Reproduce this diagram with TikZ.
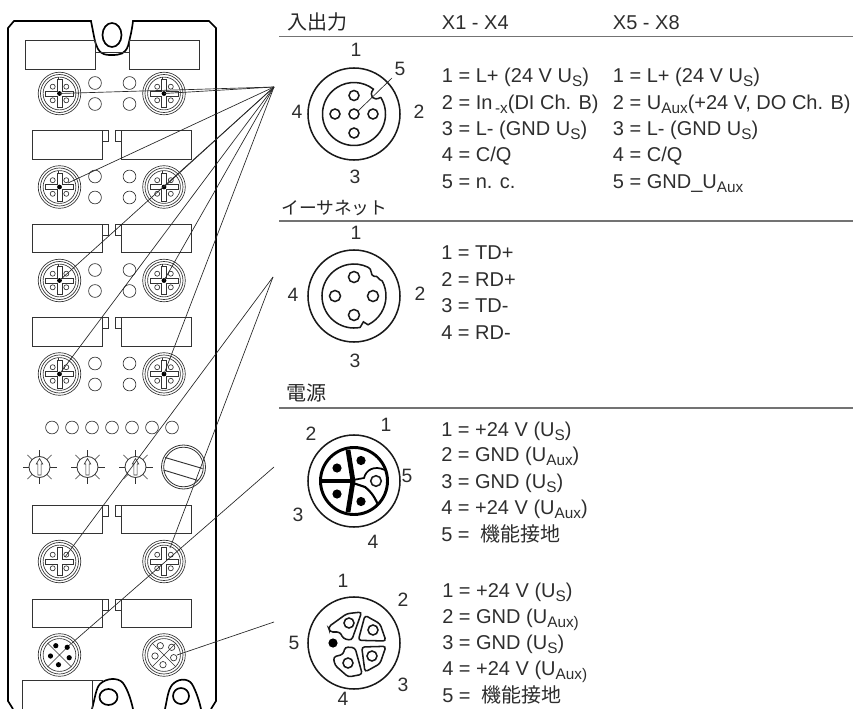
\documentclass[tikz,border=0pt]{standalone}
\usepackage{fontspec}
\usetikzlibrary{calc}
\setmainfont{Liberation Sans}
\newfontfamily\cjkfont{Noto Sans CJK JP}
\newcommand\lowered[1]{\raisebox{-3pt}{\fontsize{11.5pt}{11.5pt}\selectfont #1}}
\tikzset{
  pinlabel/.style={anchor=base west, yshift=-5.2pt, inner sep=0pt, text=black!82, font=\fontsize{15pt}{17pt}\selectfont},
  pinnum/.style={inner sep=0pt, text=black!82, font=\fontsize{14.5pt}{17pt}\selectfont},
  heading/.style={anchor=west, inner sep=0pt, text=black!85, font=\fontsize{15pt}{17pt}\selectfont},
  rulegray/.style={draw=black!55, line width=1.1pt},
  housing/.style={draw=black, line width=1.25pt},
  thinline/.style={draw=black!80, line width=.5pt},
  fanline/.style={draw=black!85, line width=.5pt},
  ledlamp/.style={draw=black!80, line width=.5pt},
  bigline/.style={draw=black!90, line width=1.15pt},
  portrings/.pic={
    \draw[thinline] (0,0) circle[radius=21.3] (0,0) circle[radius=19] (0,0) circle[radius=16.4];
  },
  crosspins/.pic={
    \draw[thinline] (-14,-2.4) -- (-2.4,-2.4) -- (-2.4,-14) -- (2.4,-14) -- (2.4,-2.4) -- (14,-2.4)
      -- (14,2.4) -- (2.4,2.4) -- (2.4,14) -- (-2.4,14) -- (-2.4,2.4) -- (-14,2.4) -- cycle;
    \foreach \px/\py in {-6.8/-6.8,6.8/-6.8,-6.8/6.8,6.8/6.8}
      \draw[thinline] (\px,\py) circle[radius=2.5];
  },
  xlines/.pic={
    \draw[thinline] (-12,-12) -- (12,12) (12,-12) -- (-12,12);
  },
  rotary/.pic={
    \draw[thinline, line width=.6pt] (0,0) circle[radius=10.5];
    \foreach \ang in {0,45,...,315}
      \draw[thinline] (\ang:10.5) -- (\ang:17);
    \draw[thinline] (-1.6,8) -- (-1.6,-3) -- (-3.2,-3) -- (0,-8.5) -- (3.2,-3) -- (1.6,-3) -- (1.6,8) -- cycle;
  }
}
\begin{document}
\begin{tikzpicture}[x=.75pt,y=-.75pt,>=latex]
\useasboundingbox (0,0) rectangle (853,709);

% module housing
\draw[housing] (13,709) -- (8,701) -- (8,28) -- (14,21) -- (91,21)
  .. controls (94,36) and (95,44) .. (98,49) .. controls (102,55) and (106,55) .. (112,55)
  .. controls (120,55) and (125,54) .. (128,46) .. controls (130,38) and (132,30) .. (133,21)
  -- (209,21) -- (216,28) -- (216,701) -- (211,709);
\draw[housing] (112,35) ellipse[x radius=9.5, y radius=12];
\draw[housing] (92,709) .. controls (95,698) and (96,688) .. (100,684) .. controls (106,678) and (118,677) .. (123,683)
  .. controls (128,690) and (131,700) .. (133,709);
\draw[housing] (165,709) .. controls (167,700) and (168,690) .. (172,685) .. controls (178,678) and (188,678) .. (192,684)
  .. controls (196,691) and (199,700) .. (201,709);
\draw[housing] (108.5,697) ellipse[x radius=9, y radius=8];
\draw[housing] (181,696) circle[radius=8];

% label fields
\draw[thinline] (25.5,40) rectangle (95,69);
\draw[thinline] (129,40) rectangle (199,69);
\draw[thinline] (95,52) -- (129,52);
\foreach \ytop in {130.5,224,317.5,505,599}{
  \draw[thinline] (32,\ytop) rectangle ++(70,28.5);
  \draw[thinline] (121.5,\ytop) rectangle ++(70,28.5);
  \draw[thinline] (102,\ytop) -- ++(6,0) -- ++(0,11) -- ++(-6,0);
  \draw[thinline] (121.5,\ytop) -- ++(-6.5,0) -- ++(0,11) -- ++(6.5,0);
}
\draw[thinline] (22.5,709) -- (22.5,680) -- (92,680) -- (92,709);
\draw[thinline] (92,680) -- (103,680);

% ports
\coordinate(X1) at (59.5,93.5);
\coordinate(X2) at (164,93.5);
\coordinate(X3) at (59.5,187);
\coordinate(X4) at (164,187);
\coordinate(X5) at (59.5,280.5);
\coordinate(X6) at (164,280.5);
\coordinate(X7) at (59.5,374);
\coordinate(X8) at (164,374);
\coordinate(P1) at (59.5,561.5);
\coordinate(P2) at (164,561.5);
\coordinate(P3) at (59.5,655);
\coordinate(P4) at (164,655);
\foreach \port in {X1,X2,X3,X4,X5,X6,X7,X8}{
  \pic at (\port) {portrings};
  \pic at (\port) {crosspins};
  \fill[black] (\port) circle[radius=2.4];
  \draw[thinline] (\port)+(-1.5,-13) -- +(-1.5,-16) ;
}
\foreach \port in {P1,P2}{
  \pic at (\port) {portrings};
  \pic at (\port) {crosspins};
}
\foreach \port in {P3,P4}{
  \pic at (\port) {portrings};
  \pic at (\port) {xlines};
}
\foreach \px/\py in {-3.7/-9.3,7.7/-7.7,-9/1,9.7/2.7,-1/9.7}{
  \fill[black] (P3)+(\px,\py) circle[radius=2.6];
  \draw[thinline] (P4)+(\px,\py) circle[radius=3.2];
}

% leds
\foreach \ly in {83,176.5,270,363.5}{
  \draw[ledlamp] (95,\ly) circle[radius=6.4];
  \draw[ledlamp] (129.5,\ly) circle[radius=6.4];
  \draw[ledlamp] (95,\ly+21) circle[radius=6.4];
  \draw[ledlamp] (129.5,\ly+21) circle[radius=6.4];
}
\foreach \lx in {52,72,92,112,132,152,172}
  \draw[ledlamp] (\lx,427.5) circle[radius=6.4];

% rotary switches and cap
\pic at (39.5,467) {rotary};
\pic at (87.5,467) {rotary};
\pic at (135.5,467) {rotary};
\draw[thinline, line width=.6pt] (183.5,467) circle[radius=22] (183.5,467) circle[radius=19.8];
\draw[thinline, line width=.7pt] (165,457.5) -- (202.5,468.5) (163.5,470) -- (198,480.5);

% leader lines
\coordinate(FanA) at (274,87);
\coordinate(FanB) at (273,277);
\coordinate(FanC) at (274,467);
\coordinate(FanD) at (274,622);
\coordinate(X3Tip) at (68,183);
\coordinate(P1Tip) at (65,557);
\coordinate(P2Tip) at (170,548);
\coordinate(P3Tip) at (72,643);
\coordinate(P4Tip) at (177,655);
\foreach \tip in {X1,X2,X3Tip,X4,X5,X6,X7,X8}
  \draw[fanline] (FanA) -- (\tip);
\draw[fanline] (FanB) -- (P1Tip);
\draw[fanline] (FanB) -- (P2Tip);
\draw[fanline] (FanC) -- (P3Tip);
\draw[fanline] (FanD) -- (P4Tip);

% headings
\node(HIO) [heading] at (287,22) {\cjkfont 入出力};
\node(HA) [pinlabel] at (441.7,23) {X1 - X4};
\node(HB) [pinlabel] at (612.7,23) {X5 - X8};
\node(HEth) [heading, font=\fontsize{13.3pt}{15pt}\selectfont] at (281,208) {\cjkfont イーサネット};
\node(HPow) [heading] at (286,393) {\cjkfont 電源};
\coordinate(R1a) at (279,36.5);
\coordinate(R1b) at (853,36.5);
\coordinate(R2a) at (279,221);
\coordinate(R2b) at (853,221);
\coordinate(R3a) at (279,408);
\coordinate(R3b) at (853,408);
\draw[rulegray] (R1a) -- (R1b);
\draw[rulegray] (R2a) -- (R2b);
\draw[rulegray] (R3a) -- (R3b);

% X1 - X8 connector
\coordinate(CA) at (354,114);
\draw[bigline] (CA) circle[radius=46];
\draw[bigline] ($(CA)+(-32:31.5)$) arc[start angle=-32, end angle=308, radius=31.5]
  .. controls ($(CA)+(-52:23)$) and ($(CA)+(-32:23)$) .. ($(CA)+(-32:31.5)$);
\foreach \px/\py in {0/0,0/-18.5,0/19,-19/0,19/0}
  \draw[bigline] (CA)+(\px,\py) circle[radius=5];
\coordinate(CATip) at (392,78);
\coordinate(CAPin) at (357,112);
\draw[fanline] (CAPin) -- (CATip);
\node(A1)[pinnum] at (356,50) {1};
\node(A2)[pinnum] at (419,112) {2};
\node(A3)[pinnum] at (355,177) {3};
\node(A4)[pinnum] at (297,112) {4};
\node(A5)[pinnum] at (400,69) {5};

\node(La1)[pinlabel] at (441.7,76) {1 = L+ (24 V U\lowered{S})};
\node(La2)[pinlabel] at (441.7,103) {2 = In\lowered{\,-x}(DI Ch. B)};
\node(La3)[pinlabel] at (441.7,129) {3 = L- (GND U\lowered{S})};
\node(La4)[pinlabel] at (441.7,155) {4 = C/Q};
\node(La5)[pinlabel] at (441.7,182) {5 = n. c.};
\node(Lb1)[pinlabel] at (612.7,76) {1 = L+ (24 V U\lowered{S})};
\node(Lb2)[pinlabel] at (612.7,103) {2 = U\lowered{Aux}(+24 V, DO Ch. B)};
\node(Lb3)[pinlabel] at (612.7,129) {3 = L- (GND U\lowered{S})};
\node(Lb4)[pinlabel] at (612.7,155) {4 = C/Q};
\node(Lb5)[pinlabel] at (612.7,182) {5 = GND\_U\lowered{Aux}};

% ethernet connector
\coordinate(CB) at (354,296);
\draw[bigline] (CB) circle[radius=46];
\draw[bigline] ($(CB)+(-28:32)$) arc[start angle=-28, end angle=64, radius=32]
  -- ($(CB)+(70:27.5)$) -- ($(CB)+(79:32)$)
  arc[start angle=79, end angle=296, radius=32]
  .. controls ($(CB)+(-56:33)$) and ($(CB)+(-52:26)$) .. ($(CB)+(-45:28)$)
  .. controls ($(CB)+(-40:32)$) and ($(CB)+(-34:29)$) .. ($(CB)+(-28:32)$);
\foreach \px/\py in {0/-19,-19/0,19/0,0/19}
  \draw[bigline] (CB)+(\px,\py) circle[radius=5.5];
\node(B1)[pinnum] at (356,233) {1};
\node(B2)[pinnum] at (420,294) {2};
\node(B3)[pinnum] at (355,361) {3};
\node(B4)[pinnum] at (293,295) {4};
\node(Lc1)[pinlabel] at (441,252.7) {1 = TD+};
\node(Lc2)[pinlabel] at (441,280) {2 = RD+};
\node(Lc3)[pinlabel] at (441,306) {3 = TD-};
\node(Lc4)[pinlabel] at (441,333) {4 = RD-};

% power connector, male
\coordinate(CC) at (354,481);
\draw[bigline] (CC) circle[radius=46];
\draw[draw=black, line width=2.2pt] (CC) circle[radius=33.5];
\draw[draw=black, line width=3.6pt] ($(CC)+(-34,0)$) -- ($(CC)+(-1,0)$);
\draw[draw=black, line width=3.6pt] ($(CC)+(-6,-31)$) -- ($(CC)+(-1,0)$) -- ($(CC)+(-6,31)$);
\draw[draw=black, line width=1.3pt] ($(CC)+(-1,-1)$) -- ($(CC)+(10,-3)$)
  .. controls ($(CC)+(12,-11)$) and ($(CC)+(20,-16)$) .. ($(CC)+(31,-11)$);
\draw[draw=black, line width=1.6pt] ($(CC)+(-1,2)$) -- ($(CC)+(11,6)$)
  .. controls ($(CC)+(15,9)$) and ($(CC)+(20,14)$) .. ($(CC)+(24,24)$);
\foreach \px/\py in {-17/-13,7/-20.5,-17/13,7/20.5}
  \fill[black] (CC)+(\px,\py) circle[radius=4.6];
\draw[bigline] (CC)+(22,0) circle[radius=5.3];
\node(C1)[pinnum] at (386,425) {1};
\node(C2)[pinnum] at (311,434) {2};
\node(C3)[pinnum] at (298,515) {3};
\node(C4)[pinnum] at (373,542) {4};
\node(C5)[pinnum] at (407,476) {5};
\node(Ld1)[pinlabel] at (441,429.3) {1 = +24 V (U\lowered{S})};
\node(Ld2)[pinlabel] at (441,455) {2 = GND (U\lowered{Aux})};
\node(Ld3)[pinlabel] at (441,481.5) {3 = GND (U\lowered{S})};
\node(Ld4)[pinlabel] at (441,508) {4 = +24 V (U\lowered{Aux})};
\node(Ld5)[pinlabel] at (441,535) {5 = \ {\cjkfont 機能接地}};

% power connector, female
\coordinate(CD) at (354,643);
\draw[bigline] (CD) circle[radius=46];
\begin{scope}[shift={(CD)}, rounded corners=2.2pt]
\draw[bigline] (-25.7,-16) -- (-7.3,-29.3) -- (7.7,-31) -- (-2.3,-2.7) -- (-10.7,-4.3) -- (-14,-11) -- (-24,-11) -- cycle;
\draw[bigline] (11,-27.7) -- (26,-19.3) -- (32,-2) -- (4.3,-2.7) -- cycle;
\draw[bigline] (7.7,4) -- (32,3.3) -- (26,20.7) -- (11,29) -- cycle;
\draw[bigline] (-9,4) -- (1,4.7) -- (8.3,31.3) -- (-5.7,34) -- (-19,22.3) -- (-20.7,14) -- (-10.7,11.3) -- cycle;
\end{scope}
\foreach \px/\py in {-5/-20,19/-13,18/13,-6/20}
  \draw[bigline] (CD)+(\px,\py) circle[radius=5];
\fill[black] (CD)+(-21,0) circle[radius=4.6];
\node(D1)[pinnum] at (343,581) {1};
\node(D2)[pinnum] at (403,600) {2};
\node(D3)[pinnum] at (403,685) {3};
\node(D4)[pinnum] at (343,699) {4};
\node(D5)[pinnum] at (294,643) {5};
\node(Le1)[pinlabel] at (442,590.7) {1 = +24 V (U\lowered{S})};
\node(Le2)[pinlabel] at (442,616.7) {2 = GND (U\lowered{Aux)}};
\node(Le3)[pinlabel] at (442,643) {3 = GND (U\lowered{S})};
\node(Le4)[pinlabel] at (442,669) {4 = +24 V (U\lowered{Aux)}};
\node(Le5)[pinlabel] at (442,695.7) {5 = \ {\cjkfont 機能接地}};
\end{tikzpicture}
\end{document}
